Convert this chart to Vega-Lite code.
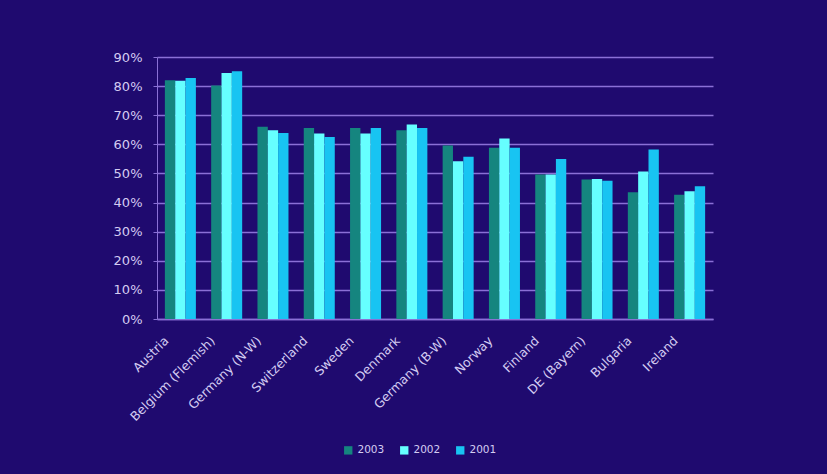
{
  "$schema": "https://vega.github.io/schema/vega-lite/v6.json",
  "width": 556,
  "height": 262,
  "autosize": {"type": "none"},
  "padding": {"left": 157, "top": 57, "right": 114, "bottom": 155},
  "background": "#1f0a6f",
  "config": {
    "view": {"stroke": null},
    "font": "DejaVu Sans"
  },
  "data": {
    "values": [
      {"country": "Austria", "year": "2003", "value": 0.82},
      {"country": "Austria", "year": "2002", "value": 0.818},
      {"country": "Austria", "year": "2001", "value": 0.828},
      {"country": "Belgium (Flemish)", "year": "2003", "value": 0.802},
      {"country": "Belgium (Flemish)", "year": "2002", "value": 0.845},
      {"country": "Belgium (Flemish)", "year": "2001", "value": 0.851},
      {"country": "Germany (N-W)", "year": "2003", "value": 0.66},
      {"country": "Germany (N-W)", "year": "2002", "value": 0.648},
      {"country": "Germany (N-W)", "year": "2001", "value": 0.639},
      {"country": "Switzerland", "year": "2003", "value": 0.656},
      {"country": "Switzerland", "year": "2002", "value": 0.637},
      {"country": "Switzerland", "year": "2001", "value": 0.625},
      {"country": "Sweden", "year": "2003", "value": 0.656},
      {"country": "Sweden", "year": "2002", "value": 0.637},
      {"country": "Sweden", "year": "2001", "value": 0.656},
      {"country": "Denmark", "year": "2003", "value": 0.648},
      {"country": "Denmark", "year": "2002", "value": 0.668},
      {"country": "Denmark", "year": "2001", "value": 0.656},
      {"country": "Germany (B-W)", "year": "2003", "value": 0.596},
      {"country": "Germany (B-W)", "year": "2002", "value": 0.542},
      {"country": "Germany (B-W)", "year": "2001", "value": 0.557},
      {"country": "Norway", "year": "2003", "value": 0.588},
      {"country": "Norway", "year": "2002", "value": 0.62},
      {"country": "Norway", "year": "2001", "value": 0.588},
      {"country": "Finland", "year": "2003", "value": 0.496},
      {"country": "Finland", "year": "2002", "value": 0.496},
      {"country": "Finland", "year": "2001", "value": 0.55},
      {"country": "DE (Bayern)", "year": "2003", "value": 0.479},
      {"country": "DE (Bayern)", "year": "2002", "value": 0.481},
      {"country": "DE (Bayern)", "year": "2001", "value": 0.475},
      {"country": "Bulgaria", "year": "2003", "value": 0.435},
      {"country": "Bulgaria", "year": "2002", "value": 0.507},
      {"country": "Bulgaria", "year": "2001", "value": 0.582},
      {"country": "Ireland", "year": "2003", "value": 0.427},
      {"country": "Ireland", "year": "2002", "value": 0.439},
      {"country": "Ireland", "year": "2001", "value": 0.456}
    ]
  },
  "mark": {"type": "bar"},
  "encoding": {
    "x": {
      "field": "country",
      "type": "nominal",
      "sort": null,
      "scale": {"paddingInner": 0.33, "paddingOuter": 0.17},
      "axis": {
        "title": null,
        "labelAngle": -45,
        "labelColor": "#d4ccf2",
        "labelFontSize": 12.5,
        "labelPadding": 15,
        "labelOffset": -18,
        "ticks": false,
        "domainColor": "#8a70d6",
        "domainWidth": 1.5
      }
    },
    "xOffset": {
      "field": "year",
      "type": "nominal",
      "sort": ["2003", "2002", "2001"],
      "scale": {"paddingInner": 0, "paddingOuter": 0}
    },
    "y": {
      "field": "value",
      "type": "quantitative",
      "scale": {"domain": [0, 0.9], "nice": false},
      "axis": {
        "title": null,
        "format": ".0%",
        "values": [0, 0.1, 0.2, 0.3, 0.4, 0.5, 0.6, 0.7, 0.8, 0.9],
        "labelOverlap": false,
        "labelColor": "#d4ccf2",
        "labelFontSize": 13,
        "labelPadding": 11,
        "tickColor": "#8a70d6",
        "tickSize": 4,
        "domainColor": "#8a70d6",
        "gridColor": "#8a70d6",
        "gridWidth": 1.5
      }
    },
    "color": {
      "field": "year",
      "type": "nominal",
      "sort": ["2003", "2002", "2001"],
      "scale": {"domain": ["2003", "2002", "2001"], "range": ["#15857f", "#66ffff", "#18c4f2"]},
      "legend": {
        "title": null,
        "orient": "none",
        "direction": "horizontal",
        "legendX": 186,
        "legendY": 388,
        "symbolType": "square",
        "symbolSize": 70,
        "symbolStrokeWidth": 0,
        "labelColor": "#d4ccf2",
        "labelFontSize": 10.5,
        "columnPadding": 14,
        "labelOffset": 4
      }
    }
  }
}
